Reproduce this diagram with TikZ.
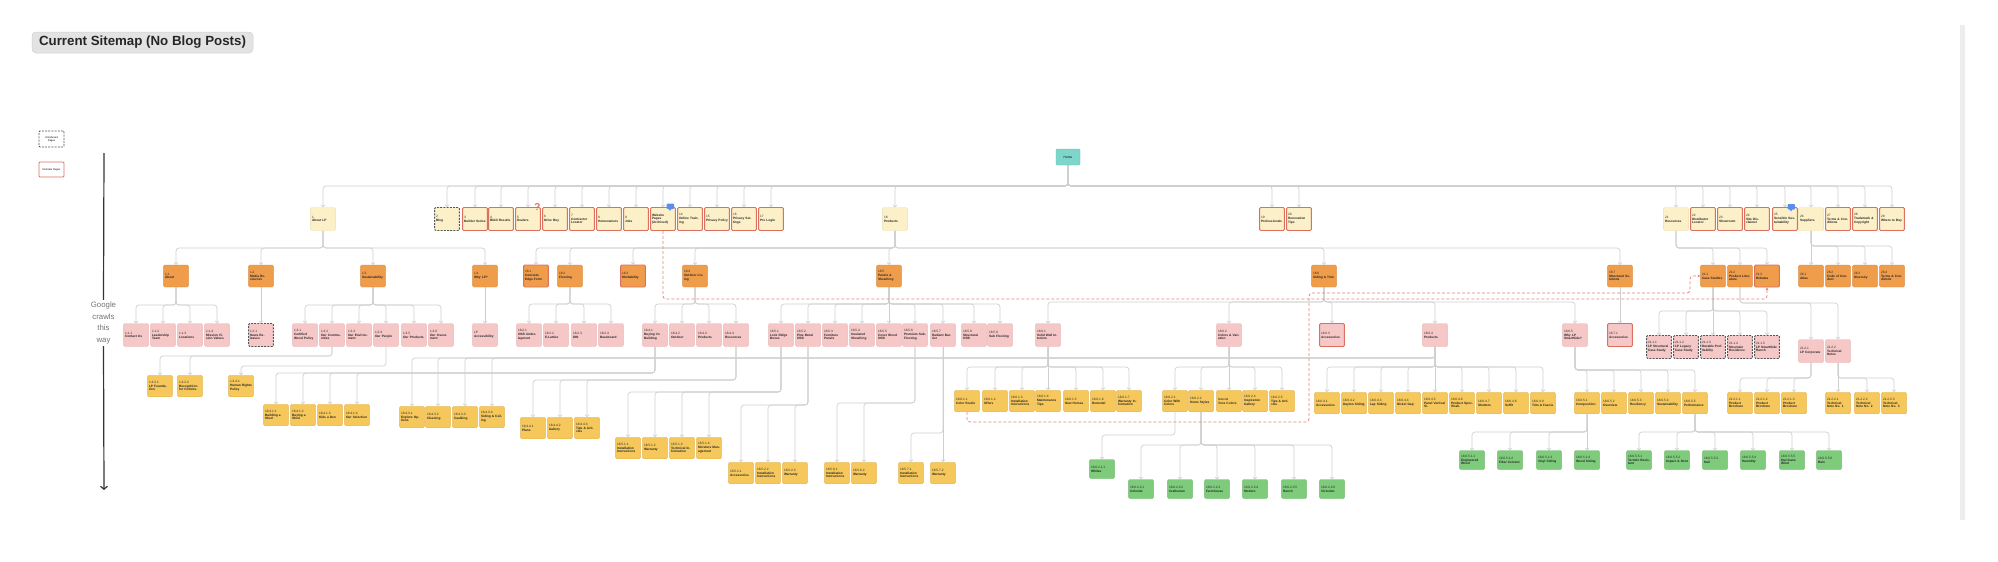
\documentclass[tikz,border=0pt]{standalone}
\usepackage{fontspec}
\setmainfont{Liberation Sans}
\usetikzlibrary{arrows.meta}
\pgfdeclarelayer{background}
\pgfsetlayers{background,main}
\definecolor{cHome}{HTML}{7ED6CB}\definecolor{cHomed}{HTML}{5FBFB3}
\definecolor{cLa}{HTML}{FCF0C8}\definecolor{cLad}{HTML}{EADBA8}
\definecolor{cOr}{HTML}{EF9C4B}\definecolor{cOrd}{HTML}{DC8A3C}
\definecolor{cPk}{HTML}{F5C8C7}\definecolor{cPkd}{HTML}{E8B3B2}
\definecolor{cYe}{HTML}{F6C85C}\definecolor{cYed}{HTML}{E2B24A}
\definecolor{cGr}{HTML}{7DCB7B}\definecolor{cGrd}{HTML}{66B565}
\definecolor{cRed}{HTML}{DD6F5F}
\definecolor{cDash}{HTML}{555555}
\definecolor{cLine}{HTML}{CFCFCF}
\definecolor{cRDash}{HTML}{E2847A}
\definecolor{cBlue}{HTML}{5B8DEF}
\newcommand\nodefont{\fontsize{3.2}{3.8}\selectfont}
\newcommand\N[6]{\node[#2] (#1) at (#3,#4) {#5\\\textbf{#6}};}
\newcommand\tedges[3]{\foreach \kid in {#3}{\draw[conn] (#1.south) -- (#1.south |- 0,#2) -- (\kid.north |- 0,#2) -- (\kid.north);}}
\newcommand\sedge[2]{\draw[conn] (#1.south) -- (#2.north);}
\tikzset{
 box/.style={rectangle, rounded corners=1.2pt, inner sep=1.4pt, text width=22pt, align=left, font=\nodefont, minimum height=22pt, text=black!85, line width=0.4pt},
 lone/.style={box, fill=cLa, draw=cLad, minimum height=23pt},
 org/.style={box, fill=cOr, draw=cOrd},
 pnk/.style={box, fill=cPk, draw=cPkd, minimum height=23pt},
 ylw/.style={box, fill=cYe, draw=cYed, minimum height=21.5pt},
 grn/.style={box, fill=cGr, draw=cGrd, minimum height=19pt},
 nbad/.style={draw=cRed, line width=0.9pt},
 unidx/.style={draw=cDash, dash pattern=on 2pt off 1.2pt, line width=0.9pt},
 conn/.style={draw=cLine, line width=0.7pt, rounded corners=3pt, -{Straight Barb[length=1.8pt,width=3.6pt]}},
 rdash/.style={draw=cRDash, line width=0.8pt, dash pattern=on 3pt off 2pt, rounded corners=3pt, -{Stealth[length=3pt,width=3pt]}},
}
\begin{document}
\begin{tikzpicture}[x=1pt,y=-1pt]
\useasboundingbox (0,0) rectangle (1998,562);
\fill[black!7] (1960,25) rectangle (1965,520);
% title
\node[rectangle, rounded corners=4pt, fill=black!11, draw=black!18, line width=0.5pt, minimum width=221pt, minimum height=21pt, inner sep=0pt, font=\fontsize{13.3}{14}\selectfont\bfseries, text=black!85] (title) at (142.5,42.5) {Current Sitemap (No Blog Posts)};
% legend
\node[rectangle, rounded corners=1pt, draw=cDash, dash pattern=on 2pt off 1.2pt, line width=0.8pt, fill=white, minimum width=25pt, minimum height=16pt, inner sep=0pt, align=center, font=\fontsize{2.6}{3}\selectfont] (lg1) at (51.5,139) {Unindexed\\Pages};
\node[rectangle, rounded corners=1pt, draw=cRed, line width=0.9pt, fill=white, minimum width=25pt, minimum height=15pt, inner sep=0pt, align=center, font=\fontsize{2.6}{3}\selectfont] (lg2) at (51.5,169.5) {NoIndex Pages};
% google arrow
\coordinate (gtop) at (104,153);
\coordinate (gbot) at (104,490);
\node[align=center, inner sep=2pt, font=\fontsize{7.8}{11.5}\selectfont, text=black!55] (gtxt) at (103.5,323) {Google\\crawls\\this\\way};
\draw[black!80, line width=1.2pt] (gtop) -- (gtxt.north);
\draw[black!80, line width=1.2pt, -{Straight Barb[length=3pt,width=7pt]}] (gtxt.south) -- (gbot);
% root
\node[rectangle, rounded corners=1.2pt, fill=cHome, draw=cHomed, line width=0.4pt, minimum width=24pt, minimum height=16pt, inner sep=0pt, font=\nodefont] (home) at (1068,157) {Home};
% level 1
\N{a1}{lone}{323}{219}{1}{About LP}
\N{a2}{lone,unidx}{447}{219}{2}{Blog}
\N{a3}{lone,nbad}{475}{219}{3}{Builder Series}
\N{a4}{lone,nbad}{501}{219}{4}{BIAD Results}
\N{a5}{lone,nbad}{528}{219}{5}{Dealers}
\N{a6}{lone,nbad}{555}{219}{6}{Drive Buy}
\N{a7}{lone,nbad}{582}{219}{7}{Contractor Locator}
\N{a8}{lone,nbad}{609}{219}{8}{Homeowners}
\N{a9}{lone,nbad}{636}{219}{9}{Jobs}
\node[lone,nbad] (a10) at (663,219) {\textbf{Website Pages (Archived)}};
\N{a11}{lone,nbad}{690}{219}{14}{Online Training}
\N{a12}{lone,nbad}{717}{219}{15}{Privacy Policy}
\N{a13}{lone,nbad}{744}{219}{16}{Privacy Settings}
\N{a14}{lone,nbad}{771}{219}{17}{Pro Login}
\N{a15}{lone}{895}{219}{18}{Products}
\N{a16}{lone,nbad}{1272}{219}{19}{Professionals}
\N{a17}{lone,nbad}{1299}{219}{20}{Renovation Tips}
\N{a18}{lone}{1676}{219}{21}{Resources}
\N{a19}{lone,nbad}{1703}{219}{22}{Distributor Locator}
\N{a20}{lone,nbad}{1730}{219}{23}{Showroom}
\N{a21}{lone,nbad}{1757}{219}{24}{Site Disclaimer}
\N{a22}{lone,nbad}{1785}{219}{25}{Sensible Sustainability}
\N{a23}{lone}{1811}{219}{26}{Suppliers}
\N{a24}{lone,nbad}{1838}{219}{27}{Terms \& Conditions}
\N{a25}{lone,nbad}{1865}{219}{28}{Trademark \& Copyright}
\N{a26}{lone,nbad}{1892}{219}{29}{Where to Buy}
% markers
\node[font=\fontsize{10}{10}\selectfont\bfseries, text=cRed, inner sep=0pt] (qm) at (537.5,207) {?};
\fill[cBlue, rounded corners=1pt] (666.5,203.5) rectangle (674,209);
\fill[cBlue] (668.5,208.5) -- (670,211) -- (671.5,208.5) -- cycle;
\fill[cBlue, rounded corners=1pt] (1787.5,204) rectangle (1795,209.5);
\fill[cBlue] (1789.5,209) -- (1791,211.5) -- (1792.5,209) -- cycle;
% level 2
\N{b11}{org}{176}{276}{1.1}{About}
\N{b12}{org}{261}{276}{1.2}{Media Resources}
\N{b13}{org}{373}{276}{1.3}{Sustainability}
\N{b14}{org}{485}{276}{1.4}{Why LP?}
\N{b181}{org,nbad}{536}{276}{18.1}{Concrete Edge Form}
\N{b182}{org}{570}{276}{18.2}{Flooring}
\N{b183}{org,nbad}{633}{276}{18.3}{Moldability}
\N{b184}{org}{695}{276}{18.4}{Outdoor Living}
\N{b185}{org}{889}{276}{18.5}{Panels \& Sheathing}
\N{b186}{org}{1324}{276}{18.6}{Siding \& Trim}
\N{b187}{org}{1620}{276}{18.7}{Structural Solutions}
\N{b211}{org}{1713}{276}{21.1}{Case Studies}
\N{b212}{org}{1740}{276}{21.2}{Product Literature}
\N{b213}{org,nbad}{1767}{276}{21.3}{Rebates}
\N{b261}{org}{1811}{276}{26.1}{Atlas}
\N{b262}{org}{1838}{276}{26.2}{Code of Conduct}
\N{b263}{org}{1865}{276}{26.3}{Diversity}
\N{b264}{org}{1892}{276}{26.4}{Terms \& Conditions}
% level 3
\N{c111}{pnk}{136}{335}{1.1.1}{Contact Us}
\N{c112}{pnk}{163}{335}{1.1.2}{Leadership Team}
\N{c113}{pnk}{190}{335}{1.1.3}{Locations}
\N{c114}{pnk}{217}{335}{1.1.4}{Mission Vision Values}
\N{c121}{pnk,unidx}{261}{335}{1.2.1}{News Releases}
\N{c131}{pnk}{305}{335}{1.3.1}{Certified Wood Policy}
\N{c132}{pnk}{332}{335}{1.3.2}{Our Communities}
\N{c133}{pnk}{359}{335}{1.3.3}{Our Environment}
\N{c134}{pnk}{386}{335}{1.3.4}{Our People}
\N{c135}{pnk}{414}{335}{1.3.5}{Our Products}
\N{c136}{pnk}{441}{335}{1.3.6}{Our Investment}
\N{c141}{pnk}{485}{335}{LP}{Accessibility}
\N{c1821}{pnk}{529}{335}{18.2.1}{OSB Underlayment}
\N{c1822}{pnk}{556}{335}{18.2.2}{E-Lattice}
\N{c1823}{pnk}{584}{335}{18.2.3}{DIN}
\N{c1824}{pnk}{611}{335}{18.2.4}{Baseboard}
\N{c1841}{pnk}{655}{335}{18.4.1}{Buying Vs Building}
\N{c1842}{pnk}{682}{335}{18.4.2}{Outdoor}
\N{c1843}{pnk}{709}{335}{18.4.3}{Products}
\N{c1844}{pnk}{736}{335}{18.4.4}{Resources}
\N{c1851}{pnk}{781}{335}{18.5.1}{Lock Ridge Boxes}
\N{c1852}{pnk}{808}{335}{18.5.2}{Pine Metal OSB}
\N{c1853}{pnk}{835}{335}{18.5.3}{Furniture Panels}
\N{c1854}{pnk}{862}{335}{18.5.4}{Insulated Sheathing}
\N{c1855}{pnk}{889}{335}{18.5.5}{Cover Wood OSB}
\N{c1856}{pnk}{915}{335}{18.5.6}{Premium Sub-Flooring}
\N{c1857}{pnk}{943}{335}{18.5.7}{Radiant Barrier}
\N{c1858}{pnk}{974}{335}{18.5.8}{Structural OSB}
\N{c1859}{pnk}{1000}{335}{18.5.9}{Sub Flooring}
\N{c1861}{pnk}{1048}{335}{18.6.1}{Solid Wall Interiors}
\N{c1862}{pnk}{1229}{335}{18.6.2}{Colors \& Variation}
\N{c1863}{pnk,nbad}{1332}{335}{18.6.3}{Accessories}
\N{c1864}{pnk}{1435}{335}{18.6.4}{Products}
\N{c1865}{pnk}{1575}{335}{18.6.5}{Why LP SmartSide?}
\N{c1871}{pnk,nbad}{1620}{335}{18.7.1}{Accessories}
\N{c2111}{pnk,unidx}{1659}{347}{21.1.1}{LP Structural Case Study}
\N{c2112}{pnk,unidx}{1686}{347}{21.1.2}{LP Legacy Case Study}
\N{c2113}{pnk,unidx}{1713}{347}{21.1.3}{Durable Profitability}
\N{c2114}{pnk,unidx}{1740}{347}{21.1.4}{Mountain Residence}
\N{c2115}{pnk,unidx}{1767}{347}{21.1.5}{LP SmartSide Ranch}
\N{c2121}{pnk}{1811}{351}{21.2.1}{LP Corporate}
\N{c2122}{pnk}{1838}{351}{21.2.2}{Technical Notes}
% level 4
\N{d1321}{ylw}{160}{386}{1.3.2.1}{LP Foundation}
\N{d1322}{ylw}{190}{386}{1.3.2.2}{Recognition for Commu.}
\N{d1341}{ylw}{241}{386}{1.3.4.1}{Human Rights Policy}
\N{d1841a}{ylw}{276}{415}{18.4.1.1}{Building a Shed}
\N{d1841b}{ylw}{303}{415}{18.4.1.2}{Buying a Shed}
\N{d1841c}{ylw}{330}{415}{18.4.1.3}{Kids a Den}
\N{d1841d}{ylw}{357}{415}{18.4.1.4}{Our Selection}
\N{d1843a}{ylw}{412}{417}{18.4.3.1}{Explore Options}
\N{d1843b}{ylw}{438}{417}{18.4.3.2}{Cleaning}
\N{d1843c}{ylw}{465}{417}{18.4.3.3}{Caulking}
\N{d1843d}{ylw}{492}{417}{18.4.3.4}{Siding \& Ceiling}
\N{d1844a}{ylw}{533}{428}{18.4.4.1}{Plans}
\N{d1844b}{ylw}{560}{428}{18.4.4.2}{Gallery}
\N{d1844c}{ylw}{587}{428}{18.4.4.3}{Tips \& Articles}
\N{d1851a}{ylw}{628}{448}{18.5.1.1}{Installation Instructions}
\N{d1851b}{ylw}{655}{448}{18.5.1.2}{Warranty}
\N{d1851c}{ylw}{682}{448}{18.5.1.3}{Technical Information}
\N{d1851d}{ylw}{709}{448}{18.5.1.4}{Moisture Management}
\N{d1852a}{ylw}{741}{473}{18.5.2.1}{Accessories}
\N{d1852b}{ylw}{768}{473}{18.5.2.2}{Installation Instructions}
\N{d1852c}{ylw}{795}{473}{18.5.2.3}{Warranty}
\N{d1856a}{ylw}{837}{473}{18.5.6.1}{Installation Instructions}
\N{d1856b}{ylw}{864}{473}{18.5.6.2}{Warranty}
\N{d1857a}{ylw}{911}{473}{18.5.7.1}{Installation Instructions}
\N{d1857b}{ylw}{943}{473}{18.5.7.2}{Warranty}
\N{d1861a}{ylw}{967}{401}{18.6.1.1}{Color Studio}
\N{d1861b}{ylw}{995}{401}{18.6.1.2}{Offers}
\N{d1861c}{ylw}{1022}{401}{18.6.1.3}{Installation Instructions}
\N{d1861d}{ylw}{1048}{401}{18.6.1.4}{Maintenance Tips}
\N{d1861e}{ylw}{1076}{401}{18.6.1.5}{New Homes}
\N{d1861f}{ylw}{1103}{401}{18.6.1.6}{Remodel}
\N{d1861g}{ylw}{1129}{401}{18.6.1.7}{Warranty Information}
\N{d1862a}{ylw}{1175}{401}{18.6.2.1}{Color With Colors}
\N{d1862b}{ylw}{1201}{401}{18.6.2.2}{Home Styles}
\N{d1862c}{ylw}{1229}{401}{Natural}{Tone Colors}
\N{d1862d}{ylw}{1255}{401}{18.6.2.4}{Inspiration Gallery}
\N{d1862e}{ylw}{1282}{401}{18.6.2.5}{Tips \& Articles}
\N{d1864a}{ylw}{1327}{403}{18.6.4.1}{Accessories}
\N{d1864b}{ylw}{1354}{403}{18.6.4.2}{Dayton Siding}
\N{d1864c}{ylw}{1381}{403}{18.6.4.3}{Lap Siding}
\N{d1864d}{ylw}{1408}{403}{18.6.4.4}{Nickel Gap}
\N{d1864e}{ylw}{1435}{403}{18.6.4.5}{Panel Vertical Si.}
\N{d1864f}{ylw}{1462}{403}{18.6.4.6}{Product Specificati.}
\N{d1864g}{ylw}{1489}{403}{18.6.4.7}{Shutters}
\N{d1864h}{ylw}{1516}{403}{18.6.4.8}{Soffit}
\N{d1864i}{ylw}{1543}{403}{18.6.4.9}{Trim \& Fascia}
\N{d1865a}{ylw}{1587}{403}{18.6.5.1}{Composition}
\N{d1865b}{ylw}{1614}{403}{18.6.5.2}{Overview}
\N{d1865c}{ylw}{1641}{403}{18.6.5.3}{Resiliency}
\N{d1865d}{ylw}{1668}{403}{18.6.5.4}{Sustainability}
\N{d1865e}{ylw}{1695}{403}{18.6.5.5}{Performance}
\N{d2121a}{ylw}{1740}{403}{21.2.1.1}{Product Brochure}
\N{d2121b}{ylw}{1767}{403}{21.2.1.2}{Product Brochure}
\N{d2121c}{ylw}{1794}{403}{21.2.1.3}{Product Brochure}
\N{d2122a}{ylw}{1838}{403}{21.2.2.1}{Technical Note No. 1}
\N{d2122b}{ylw}{1867}{403}{21.2.2.2}{Technical Note No. 2}
\N{d2122c}{ylw}{1894}{403}{21.2.2.3}{Technical Note No. 3}
% level 5
\N{e1862a}{grn}{1102}{469}{18.6.2.1.1}{Whites}
\N{e1862b}{grn}{1141}{489}{18.6.2.2.1}{Colonial}
\N{e1862c}{grn}{1180}{489}{18.6.2.2.2}{Craftsman}
\N{e1862d}{grn}{1217}{489}{18.6.2.2.3}{Farmhouse}
\N{e1862e}{grn}{1255}{489}{18.6.2.2.4}{Modern}
\N{e1862f}{grn}{1294}{489}{18.6.2.2.5}{Ranch}
\N{e1862g}{grn}{1332}{489}{18.6.2.2.6}{Victorian}
\N{e1865a}{grn}{1472}{460}{18.6.5.1.1}{Engineered Wood}
\N{e1865b}{grn}{1510}{460}{18.6.5.1.2}{Fiber Cement}
\N{e1865c}{grn}{1549}{460}{18.6.5.1.3}{Vinyl Siding}
\N{e1865d}{grn}{1587}{460}{18.6.5.1.4}{Wood Siding}
\N{e1865e}{grn}{1639}{460}{18.6.5.5.1}{Termite Resistant}
\N{e1865f}{grn}{1677}{460}{18.6.5.5.2}{Impact \& Dent}
\N{e1865g}{grn}{1715}{460}{18.6.5.5.3}{Hail}
\N{e1865h}{grn}{1753}{460}{18.6.5.5.4}{Humidity}
\N{e1865i}{grn}{1792}{460}{18.6.5.5.5}{Hurricane Wind}
\N{e1865j}{grn}{1829}{460}{18.6.5.5.6}{Rain}
% connectors
\begin{pgfonlayer}{background}
\tedges{home}{186}{a1,a2,a3,a4,a5,a6,a7,a8,a9,a10,a11,a12,a13,a14,a15,a16,a17,a18,a19,a20,a21,a22,a23,a24,a25,a26}
\tedges{a1}{248}{b11,b12,b13,b14}
\tedges{a15}{248}{b181,b182,b183,b184,b185,b186,b187}
\tedges{a18}{248}{b211,b212,b213}
\tedges{a23}{246}{b262,b263,b264}
\sedge{a23}{b261}
\tedges{b11}{305}{c111,c112,c113,c114}
\sedge{b12}{c121}
\tedges{b13}{305}{c131,c132,c133,c134,c135,c136}
\sedge{b14}{c141}
\tedges{b182}{304}{c1821,c1822,c1823,c1824}
\tedges{b184}{304}{c1841,c1842,c1843,c1844}
\tedges{b185}{304}{c1851,c1852,c1853,c1854,c1856,c1857,c1858,c1859}
\sedge{b185}{c1855}
\tedges{b186}{302}{c1861,c1862,c1863,c1864,c1865}
\sedge{b187}{c1871}
\tedges{b211}{311}{c2111,c2112,c2114,c2115}
\sedge{b211}{c2113}
\tedges{b212}{303}{c2121,c2122}
\tedges{c132}{356}{d1321,d1322}
\tedges{c134}{366}{d1341}
\tedges{c1841}{373}{d1841a,d1841b,d1841c,d1841d}
\tedges{c1864}{358}{d1843a,d1843b,d1843c,d1843d}
\tedges{c1844}{380}{d1844a,d1844b,d1844c}
\tedges{c1851}{392}{d1851a,d1851b,d1851c,d1851d}
\tedges{c1852}{405}{d1852a,d1852b,d1852c}
\tedges{c1856}{403}{d1856a,d1856b}
\tedges{c1857}{433}{d1857a}
\sedge{c1857}{d1857b}
\tedges{c1861}{367}{d1861a,d1861b,d1861c,d1861e,d1861f,d1861g}
\sedge{c1861}{d1861d}
\tedges{c1862}{367}{d1862a,d1862b,d1862d,d1862e}
\sedge{c1862}{d1862c}
\tedges{c1864}{367}{d1864a,d1864b,d1864c,d1864d,d1864f,d1864g,d1864h,d1864i}
\sedge{c1864}{d1864e}
\tedges{c1865}{370}{d1865a,d1865b,d1865c,d1865d,d1865e}
\tedges{c2121}{378}{d2121a,d2121b,d2121c}
\tedges{c2122}{378}{d2122b,d2122c}
\sedge{c2122}{d2122a}
\tedges{d1862a}{435}{e1862a}
\tedges{d1862b}{445}{e1862b,e1862c,e1862d,e1862e,e1862f,e1862g}
\tedges{d1865a}{432}{e1865a,e1865b,e1865c}
\sedge{d1865a}{e1865d}
\tedges{d1865e}{432}{e1865e,e1865f,e1865g,e1865h,e1865i,e1865j}
% red dashed links
\draw[rdash] (a10.south) -- (a10.south |- 0,299) -- (b213.south |- 0,299) -- (b213.south);
\draw[rdash] (d1861a.south) -- (d1861a.south |- 0,422) -- (1309,422) -- (1309,293) -- (1690,293) -- (1690,276) -- (b211.west);
\end{pgfonlayer}
\end{tikzpicture}
\end{document}
